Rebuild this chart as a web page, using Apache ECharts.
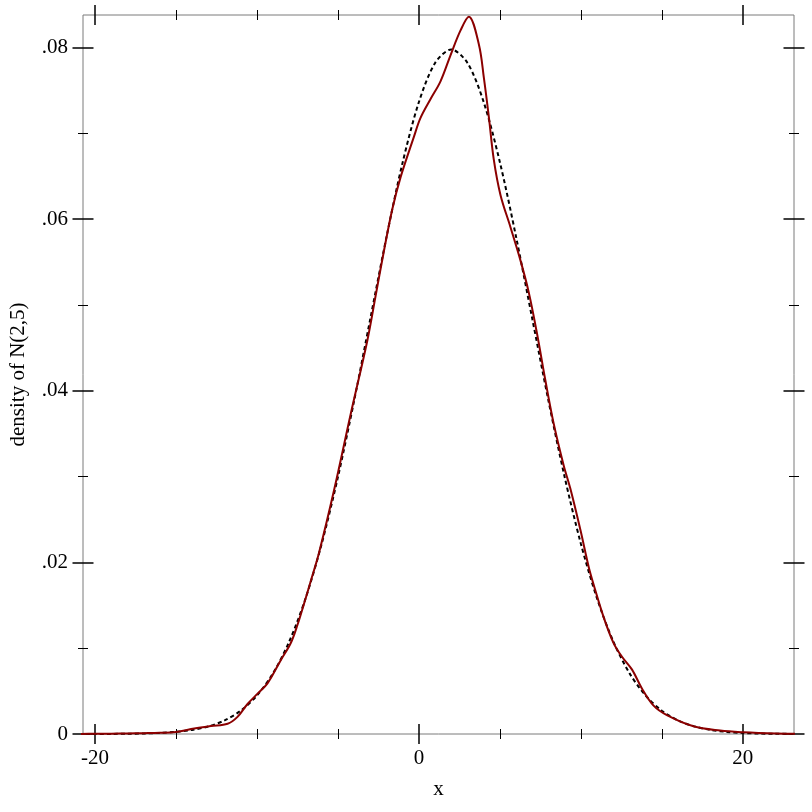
<!DOCTYPE html>
<html><head><meta charset="utf-8">
<script src="https://cdn.jsdelivr.net/npm/echarts@6/dist/echarts.min.js"></script>
<style>html,body{margin:0;padding:0;background:#fff}#c{width:812px;height:812px}</style>
</head><body><div id="c"></div>
<script>
// Dashed reference curve: density of N(2,5)
const normalX = [-21,-20,-19,-18,-17,-16,-15,-14,-13,-12,-11,-10,-9,-8,-7,-6,-5,-4,-3,-2,-1,0,1,2,3,4,5,6,7,8,9,10,11,12,13,14,15,16,17,18,19,20,21,22,23,24];
const normalY = [0.000002,0.000005,0.0000118,0.0000268,0.0000584,0.0001224,0.0002465,0.0004769,0.0008864,0.001583,0.002717,0.004479,0.007095,0.010798,0.01579,0.022184,0.029945,0.038837,0.048394,0.057938,0.066645,0.073654,0.078209,0.079788,0.078209,0.073654,0.066645,0.057938,0.048394,0.038837,0.029945,0.022184,0.01579,0.010798,0.007095,0.004479,0.002717,0.001583,0.0008864,0.0004769,0.0002465,0.0001224,0.0000584,0.0000268,0.0000118,0.000005];
// Solid red curve: sample density estimate
const kdeX = [-21,-20,-19,-18,-17,-16,-15,-13.87,-12.84,-11.81,-11.2,-10.58,-9.96,-9.35,-8.53,-7.91,-7.5,-7.09,-6.68,-6.17,-5.24,-4.21,-3.18,-2.67,-2.16,-1.64,-1.13,-0.31,0.1,0.72,1.34,1.95,2.57,3.08,3.7,4.01,4.32,4.62,5.04,5.65,6.27,6.78,7.3,7.81,8.32,8.94,9.35,9.97,10.48,10.79,11.41,12.02,12.54,13.16,13.77,14.49,15.31,16.95,18.6,20.04,22.1,23.3];
const kdeY = [0.00001,0.00002,0.00004,0.00007,0.0001,0.00014,0.00023,0.00063,0.00093,0.0012,0.002,0.0035,0.0047,0.0059,0.0086,0.0106,0.0127,0.0152,0.0178,0.0211,0.0284,0.0373,0.0459,0.0511,0.0563,0.0612,0.0649,0.0696,0.0718,0.074,0.0761,0.0791,0.082,0.0836,0.0804,0.0765,0.0719,0.0670,0.0628,0.0591,0.0552,0.0515,0.0466,0.0412,0.0362,0.0313,0.0286,0.0238,0.0195,0.0174,0.0136,0.0106,0.009,0.0075,0.0053,0.0033,0.0022,0.0009,0.0004,0.0002,0.00005,0.00002];
// Axes
const xMajorTicks = [-20, 0, 20];
const xTickLabels = ['-20', '0', '20'];
const xMinorTicks = [-15, -10, -5, 5, 10, 15];
const yMajorTicks = [0, 0.02, 0.04, 0.06, 0.08];
const yTickLabels = ['0', '.02', '.04', '.06', '.08'];
const yMinorTicks = [0.01, 0.03, 0.05, 0.07];
const xLabel = 'x';
const yLabel = 'density of N(2,5)';

const X_MIN = -20.74, X_MAX = 23.16, Y_MIN = 0, Y_MAX = 0.0838;
const FONT = 'Liberation Serif';

function lookup(vals, labels) {
  return function (v) {
    for (let i = 0; i < vals.length; i++) if (Math.abs(vals[i] - v) < 1e-9) return labels[i];
    return '';
  };
}
function tickAxis(min, max, pos, values, offset, len, width) {
  return {
    type: 'value', min: min, max: max, position: pos, offset: offset,
    axisLine: { show: false, onZero: false },
    axisTick: { show: true, customValues: values, length: len, inside: false, lineStyle: { color: '#000', width: width } },
    axisLabel: { show: false }, splitLine: { show: false }
  };
}

const chart = echarts.init(document.getElementById('c'), null, { renderer: 'canvas' });
chart.setOption({
  animation: false,
  backgroundColor: '#fff',
  grid: { left: 82, right: 18, top: 15, bottom: 78, show: true, borderColor: '#7a7a7a', borderWidth: 1, backgroundColor: 'transparent' },
  xAxis: [
    {
      type: 'value', min: X_MIN, max: X_MAX, position: 'bottom',
      name: xLabel, nameLocation: 'middle', nameGap: 45,
      nameTextStyle: { fontFamily: FONT, fontSize: 21, color: '#000' },
      axisLine: { show: false, onZero: false }, axisTick: { show: false }, splitLine: { show: false },
      axisLabel: { show: true, customValues: xMajorTicks, formatter: lookup(xMajorTicks, xTickLabels), margin: 14, fontFamily: FONT, fontSize: 21, color: '#000' }
    },
    tickAxis(X_MIN, X_MAX, 'bottom', xMajorTicks, -10, 20, 1.5),
    tickAxis(X_MIN, X_MAX, 'bottom', xMinorTicks, -5, 10, 1),
    tickAxis(X_MIN, X_MAX, 'top', xMajorTicks, -10, 20, 1.5),
    tickAxis(X_MIN, X_MAX, 'top', xMinorTicks, -5, 10, 1)
  ],
  yAxis: [
    {
      type: 'value', min: Y_MIN, max: Y_MAX, position: 'left',
      name: yLabel, nameLocation: 'middle', nameGap: 54,
      nameTextStyle: { fontFamily: FONT, fontSize: 21, color: '#000' },
      axisLine: { show: false, onZero: false }, axisTick: { show: false }, splitLine: { show: false },
      axisLabel: { show: true, customValues: yMajorTicks, formatter: lookup(yMajorTicks, yTickLabels), margin: 15, fontFamily: FONT, fontSize: 21, color: '#000' }
    },
    tickAxis(Y_MIN, Y_MAX, 'left', yMajorTicks, -10.5, 21, 1.5),
    tickAxis(Y_MIN, Y_MAX, 'left', yMinorTicks, -5, 10, 1),
    tickAxis(Y_MIN, Y_MAX, 'right', yMajorTicks, -10.5, 21, 1.5),
    tickAxis(Y_MIN, Y_MAX, 'right', yMinorTicks, -5, 10, 1)
  ],
  series: [
    {
      type: 'line', xAxisIndex: 0, yAxisIndex: 0, showSymbol: false, smooth: 0.3, clip: true,
      data: normalX.map((x, i) => [x, normalY[i]]),
      lineStyle: { color: '#000', width: 2, type: [4, 3] }
    },
    {
      type: 'line', xAxisIndex: 0, yAxisIndex: 0, showSymbol: false, smooth: 0.35, clip: true,
      data: kdeX.map((x, i) => [x, kdeY[i]]),
      lineStyle: { color: '#8b0000', width: 2 }
    }
  ]
});
</script>
</body></html>
